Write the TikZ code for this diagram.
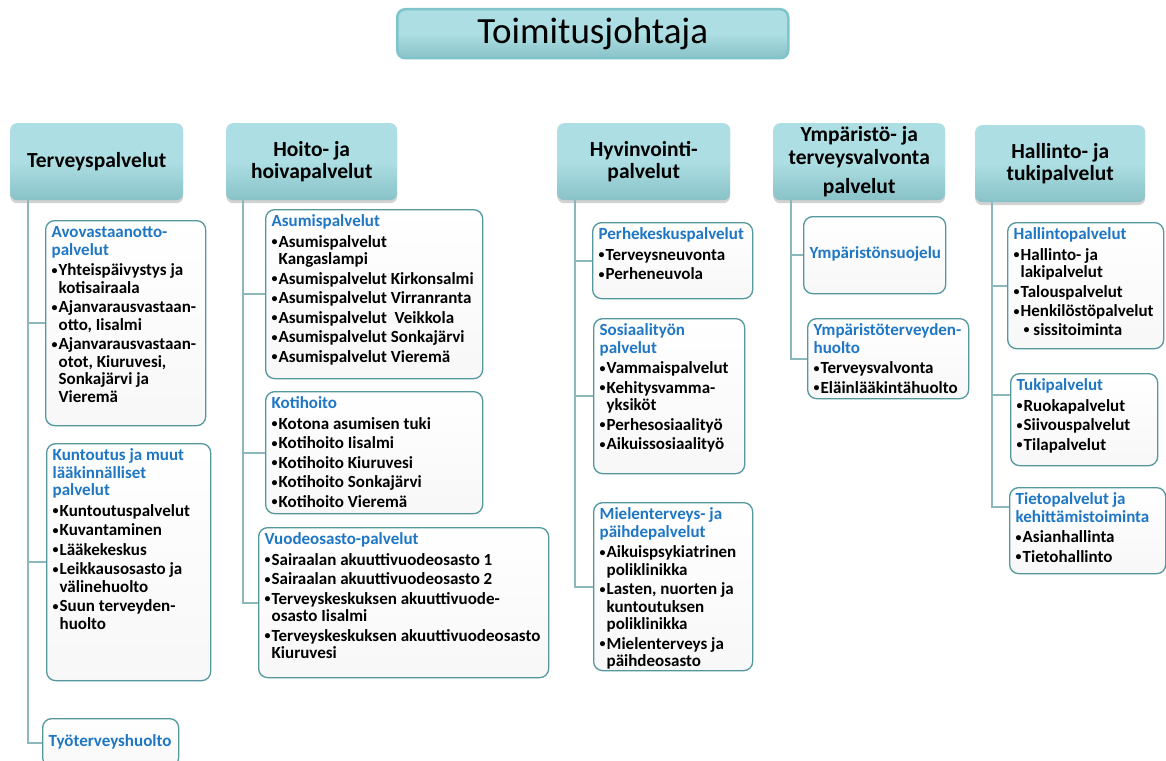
\documentclass[tikz,border=0pt]{standalone}
\usepackage{fontspec}
\setmainfont{Carlito}
\usetikzlibrary{calc, shadows}

\definecolor{otsikko}{RGB}{31,119,196}
\definecolor{reuna}{RGB}{84,152,158}
\definecolor{ylavari}{RGB}{172,222,227}
\definecolor{alavari}{RGB}{136,194,199}
\definecolor{haaravari}{RGB}{140,184,188}
\definecolor{johtoreuna}{RGB}{126,196,202}

\newcommand{\ots}[1]{\textcolor{otsikko}{#1}}
\newcommand{\piste}{\raisebox{1.8pt}{\fontsize{12}{12}\selectfont\textbullet}}
\newcommand{\pal}{\makebox[7pt][l]{\piste}}
\newcommand{\jatk}{\hspace*{7pt}}
\newcommand{\laatikko}[4][t]{\parbox[c][\dimexpr#3pt-10pt\relax][#1]{\dimexpr#2pt-12pt\relax}{%
  \begin{tabular}[t]{@{}l@{}}#4\end{tabular}}}

\tikzset{
  johto/.style={rounded corners=8pt, draw=johtoreuna, line width=2.5pt,
    top color=ylavari, bottom color=alavari, middle color=ylavari,
    minimum width=391pt, minimum height=49pt, anchor=north west,
    font=\fontsize{37}{40}\selectfont},
  sektori/.style={rounded corners=7pt, top color=ylavari, bottom color=alavari,
    middle color=ylavari,
    drop shadow={shadow xshift=0pt, shadow yshift=-3pt, opacity=0.35},
    minimum height=77pt, anchor=north west, align=center, inner sep=2pt,
    font=\fontsize{21.5}{22.5}\selectfont\bfseries},
  yksikko/.style={draw=reuna, line width=1.3pt, rounded corners=9pt,
    top color=white, bottom color=black!3, anchor=north west,
    inner xsep=6pt, inner ysep=5pt,
    font=\fontsize{17}{17.5}\selectfont\bfseries},
  haara/.style={draw=haaravari, line width=1.8pt},
}

\begin{document}
\begin{tikzpicture}[x=1pt, y=-1pt]
  \path[use as bounding box, clip] (0,0) rectangle (1166,760);
  \fill[white] (0,0) rectangle (1166,760);

  % ylin johto
  \node[johto] (tj) at (396,8) {Toimitusjohtaja};

  % palvelualueet
  \node[sektori, minimum width=173pt] (terv) at (10,123) {Terveyspalvelut};
  \node[sektori, minimum width=171pt] (hoito) at (226,123) {Hoito- ja\\hoivapalvelut};
  \node[sektori, minimum width=173pt] (hyv) at (557,123) {Hyvinvointi-\\palvelut};
  \node[sektori, minimum width=172pt] (ymp) at (773,123) {Ympäristö- ja\\terveysvalvonta\\[7pt]palvelut};
  \node[sektori, minimum width=170pt] (hall) at (975,125) {Hallinto- ja\\tukipalvelut};

  % terveyspalvelut
  \node[yksikko] (avo) at (45,220) {\laatikko{160}{205}{%
    \ots{Avovastaanotto-}\\ \ots{palvelut}\\[3pt]
    \pal Yhteispäivystys ja\\ \jatk kotisairaala\\[2pt]
    \pal Ajanvarausvastaan-\\ \jatk otto, Iisalmi\\[2pt]
    \pal Ajanvarausvastaan-\\ \jatk otot, Kiuruvesi,\\ \jatk Sonkajärvi ja\\ \jatk Vieremä}};
  \node[yksikko] (kunt) at (46,443) {\laatikko{164}{237}{%
    \ots{Kuntoutus ja muut}\\ \ots{lääkinnälliset}\\ \ots{palvelut}\\[3pt]
    \pal Kuntoutuspalvelut\\[2pt]
    \pal Kuvantaminen\\[2pt]
    \pal Lääkekeskus\\[2pt]
    \pal Leikkausosasto ja\\ \jatk välinehuolto\\[2pt]
    \pal Suun terveyden-\\ \jatk huolto}};
  \node[yksikko] (tyo) at (42,718) {\laatikko[c]{136}{48}{\ots{Työterveyshuolto}}};

  % hoito- ja hoivapalvelut
  \node[yksikko] (asu) at (265,209) {\laatikko{217}{169}{%
    \ots{Asumispalvelut}\\[3pt]
    \pal Asumispalvelut\\ \jatk Kangaslampi\\[2pt]
    \pal Asumispalvelut Kirkonsalmi\\[2pt]
    \pal Asumispalvelut Virranranta\\[2pt]
    \pal Asumispalvelut\ \ Veikkola\\[2pt]
    \pal Asumispalvelut Sonkajärvi\\[2pt]
    \pal Asumispalvelut Vieremä}};
  \node[yksikko] (koti) at (265,391) {\laatikko{217}{122}{%
    \ots{Kotihoito}\\[3pt]
    \pal Kotona asumisen tuki\\[2pt]
    \pal Kotihoito Iisalmi\\[2pt]
    \pal Kotihoito Kiuruvesi\\[2pt]
    \pal Kotihoito Sonkajärvi\\[2pt]
    \pal Kotihoito Vieremä}};
  \node[yksikko] (vuode) at (258,527) {\laatikko{290}{150}{%
    \ots{Vuodeosasto-palvelut}\\[3pt]
    \pal Sairaalan akuuttivuodeosasto 1\\[2pt]
    \pal Sairaalan akuuttivuodeosasto 2\\[2pt]
    \pal Terveyskeskuksen akuuttivuode-\\ \jatk osasto Iisalmi\\[2pt]
    \pal Terveyskeskuksen akuuttivuodeosasto\\ \jatk Kiuruvesi}};

  % hyvinvointipalvelut
  \node[yksikko] (perhe) at (592,222) {\laatikko{160}{76}{%
    \ots{Perhekeskuspalvelut}\\[3pt]
    \pal Terveysneuvonta\\[2pt]
    \pal Perheneuvola}};
  \node[yksikko] (sos) at (593,318) {\laatikko{151}{155}{%
    \ots{Sosiaalityön}\\ \ots{palvelut}\\[3pt]
    \pal Vammaispalvelut\\[2pt]
    \pal Kehitysvamma-\\ \jatk yksiköt\\[2pt]
    \pal Perhesosiaalityö\\[2pt]
    \pal Aikuissosiaalityö}};
  \node[yksikko] (miel) at (593,502) {\laatikko{159}{168}{%
    \ots{Mielenterveys- ja}\\ \ots{päihdepalvelut}\\[3pt]
    \pal Aikuispsykiatrinen\\ \jatk poliklinikka\\[2pt]
    \pal Lasten, nuorten ja\\ \jatk kuntoutuksen\\ \jatk poliklinikka\\[2pt]
    \pal Mielenterveys ja\\ \jatk päihdeosasto}};

  % ympäristö- ja terveysvalvonta
  \node[yksikko] (ysuo) at (803,216) {\laatikko[c]{142}{77}{\ots{Ympäristönsuojelu}}};
  \node[yksikko] (yter) at (807,318) {\laatikko{161}{80}{%
    \ots{Ympäristöterveyden-}\\ \ots{huolto}\\[3pt]
    \pal Terveysvalvonta\\[2pt]
    \pal Eläinlääkintähuolto}};

  % hallinto- ja tukipalvelut
  \node[yksikko] (hpal) at (1007,222) {\laatikko{156}{126}{%
    \ots{Hallintopalvelut}\\[3pt]
    \pal Hallinto- ja\\ \jatk lakipalvelut\\[2pt]
    \pal Talouspalvelut\\[2pt]
    \pal Henkilöstöpalvelut\\[1pt]
    \hspace*{10pt}\piste\ sissitoiminta}};
  \node[yksikko] (tuki) at (1010,373) {\laatikko{147}{92}{%
    \ots{Tukipalvelut}\\[3pt]
    \pal Ruokapalvelut\\[2pt]
    \pal Siivouspalvelut\\[2pt]
    \pal Tilapalvelut}};
  \node[yksikko] (tieto) at (1009,487) {\laatikko{156}{86}{%
    \ots{Tietopalvelut ja}\\ \ots{kehittämistoiminta}\\[3pt]
    \pal Asianhallinta\\[2pt]
    \pal Tietohallinto}};

  % haarat
  \coordinate (tervr) at ($(terv.south west)+(18,0)$);
  \coordinate (hoitor) at ($(hoito.south west)+(17,0)$);
  \coordinate (hyvr) at ($(hyv.south west)+(18,0)$);
  \coordinate (ympr) at ($(ymp.south west)+(18,0)$);
  \coordinate (hallr) at ($(hall.south west)+(17,0)$);

  \draw[haara] (tervr) |- (avo.west);
  \draw[haara] (tervr) |- (kunt.west);
  \draw[haara] (tervr) |- (tyo.west);
  \draw[haara] (hoitor) |- (asu.west);
  \draw[haara] (hoitor) |- (koti.west);
  \draw[haara] (hoitor) |- (vuode.west);
  \draw[haara] (hyvr) |- (perhe.west);
  \draw[haara] (hyvr) |- (sos.west);
  \draw[haara] (hyvr) |- (miel.west);
  \draw[haara] (ympr) |- (ysuo.west);
  \draw[haara] (ympr) |- (yter.west);
  \draw[haara] (hallr) |- (hpal.west);
  \draw[haara] (hallr) |- ($(tuki.north west)+(0,22)$);
  \draw[haara] (hallr) |- ($(tieto.north west)+(0,20)$);
\end{tikzpicture}
\end{document}
